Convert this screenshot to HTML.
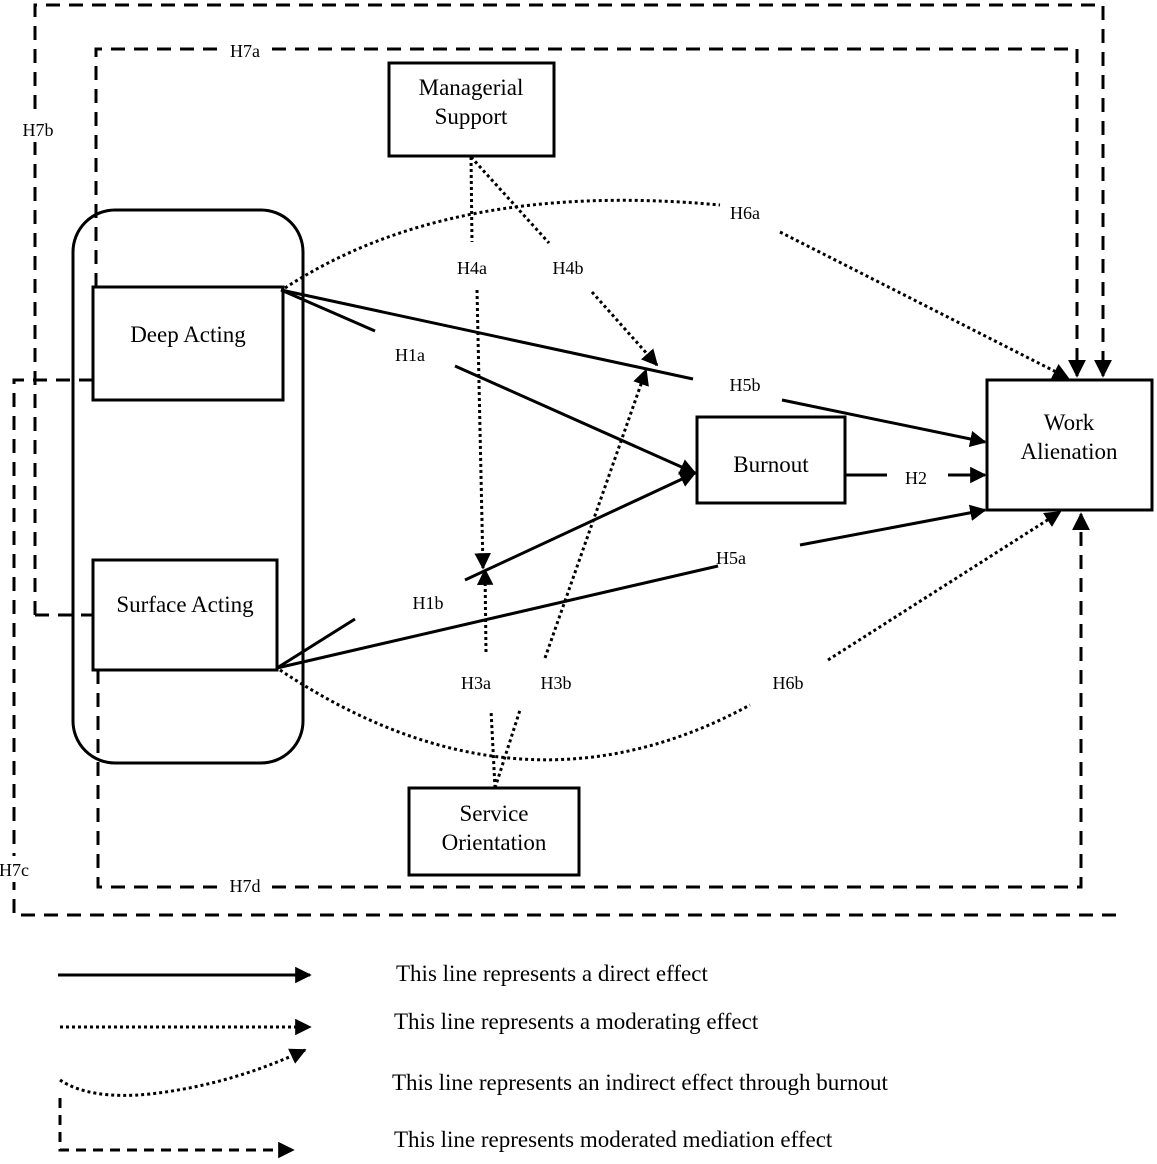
<!DOCTYPE html>
<html><head><meta charset="utf-8"><style>
html,body{margin:0;padding:0;background:#fff}
svg{display:block}
text{font-family:"Liberation Serif",serif;fill:#000}
.n{font-size:23px;text-anchor:middle}
.l{font-size:18px;text-anchor:middle}
.g{font-size:23px}
</style></head><body>
<svg width="1157" height="1164" viewBox="0 0 1157 1164" xmlns="http://www.w3.org/2000/svg">
<defs>
<marker id="a" viewBox="0 0 10 10" refX="9" refY="5" markerWidth="5.5" markerHeight="5.5" orient="auto" markerUnits="strokeWidth"><path d="M0,0L10,5L0,10z" fill="#000"/></marker>
<marker id="b" viewBox="0 0 10 10" refX="9" refY="5" markerWidth="6" markerHeight="6" orient="auto" markerUnits="strokeWidth"><path d="M0,0L10,5L0,10z" fill="#000"/></marker>
</defs>
<g fill="none" stroke="#000">
<g stroke-width="3" stroke-dasharray="14,9">
<polyline points="35,615 35,5 1103,5 1103,376" marker-end="url(#b)"/>
<polyline points="96,287 96,49 1077,49 1077,376" marker-end="url(#b)"/>
<polyline points="93,380 14,380 14,915 1120,915"/>
<polyline points="98,670 98,887 1081,887 1081,514" marker-end="url(#b)"/>
<line x1="35" y1="615" x2="93" y2="615"/>
</g>
<rect x="73" y="210" width="230" height="553" rx="42" stroke-width="3" fill="none"/>
<rect x="93" y="287" width="190" height="113" stroke-width="3" fill="#fff"/>
<rect x="93" y="560" width="184" height="110" stroke-width="3" fill="#fff"/>
<rect x="389" y="63" width="165" height="93" stroke-width="3" fill="#fff"/>
<rect x="697" y="417" width="148" height="86" stroke-width="3" fill="#fff"/>
<rect x="987" y="380" width="165" height="130" stroke-width="3" fill="#fff"/>
<rect x="409" y="788" width="170" height="87" stroke-width="3" fill="#fff"/>
<g stroke-width="3">
<line x1="281" y1="290" x2="375" y2="331"/>
<line x1="455" y1="366" x2="695" y2="473" marker-end="url(#a)"/>
<line x1="281" y1="290" x2="693" y2="379"/>
<line x1="782" y1="400" x2="985" y2="442" marker-end="url(#a)"/>
<line x1="277" y1="668" x2="355" y2="619"/>
<line x1="465" y1="580" x2="695" y2="473" marker-end="url(#a)"/>
<line x1="277" y1="668" x2="718" y2="566"/>
<line x1="800" y1="545" x2="985" y2="510" marker-end="url(#a)"/>
<line x1="845" y1="475" x2="887" y2="475"/>
<line x1="948" y1="475" x2="985" y2="475" marker-end="url(#a)"/>
</g>
<g stroke-width="3" stroke-dasharray="3,3">
<line x1="471" y1="157" x2="472" y2="242"/>
<line x1="477" y1="290" x2="483" y2="568" marker-end="url(#a)"/>
<line x1="471" y1="157" x2="549" y2="243"/>
<line x1="592" y1="292" x2="657" y2="365" marker-end="url(#a)"/>
<line x1="495" y1="788" x2="491" y2="710"/>
<line x1="486" y1="652" x2="485" y2="570" marker-end="url(#a)"/>
<line x1="495" y1="788" x2="520" y2="710"/>
<line x1="545" y1="658" x2="646" y2="370" marker-end="url(#a)"/>
<path d="M285,288 Q450,180 720,205"/>
<line x1="780" y1="232" x2="1068" y2="378" marker-end="url(#a)"/>
<path d="M280,670 Q520,830 750,705"/>
<line x1="828" y1="660" x2="1060" y2="512" marker-end="url(#a)"/>
</g>
<line x1="58" y1="975" x2="310" y2="975" stroke-width="3" marker-end="url(#a)"/>
<line x1="60" y1="1027" x2="310" y2="1027" stroke-width="3" stroke-dasharray="3,3" marker-end="url(#a)"/>
<path d="M60,1080 Q90,1100 150,1094 Q230,1085 305,1050" stroke-width="3" stroke-dasharray="3,3" marker-end="url(#a)"/>
<polyline points="60,1098 60,1150 293,1150" stroke-width="3" stroke-dasharray="10,7" marker-end="url(#a)"/>
</g>
<g fill="#fff">
<rect x="18" y="116" width="40" height="26"/>
<rect x="224" y="38" width="44" height="24"/>
<rect x="0" y="856" width="32" height="26"/>
<rect x="224" y="874" width="44" height="26"/>
</g>
<text class="l" x="38" y="136">H7b</text>
<text class="l" x="245" y="57">H7a</text>
<text class="l" x="14" y="876">H7c</text>
<text class="l" x="245" y="892">H7d</text>
<text class="l" x="410" y="361">H1a</text>
<text class="l" x="428" y="609">H1b</text>
<text class="l" x="472" y="274">H4a</text>
<text class="l" x="568" y="274">H4b</text>
<text class="l" x="476" y="689">H3a</text>
<text class="l" x="556" y="689">H3b</text>
<text class="l" x="745" y="219">H6a</text>
<text class="l" x="788" y="689">H6b</text>
<text class="l" x="745" y="391">H5b</text>
<text class="l" x="731" y="564">H5a</text>
<text class="l" x="916" y="484">H2</text>
<text class="n" x="188" y="342">Deep Acting</text>
<text class="n" x="185" y="612">Surface Acting</text>
<text class="n" x="471" y="95">Managerial</text>
<text class="n" x="471" y="124">Support</text>
<text class="n" x="771" y="472">Burnout</text>
<text class="n" x="1069" y="430">Work</text>
<text class="n" x="1069" y="459">Alienation</text>
<text class="n" x="494" y="821">Service</text>
<text class="n" x="494" y="850">Orientation</text>
<text class="g" x="396" y="981">This line represents a direct effect</text>
<text class="g" x="394" y="1029">This line represents a moderating effect</text>
<text class="g" x="392" y="1090">This line represents an indirect effect through burnout</text>
<text class="g" x="394" y="1147">This line represents moderated mediation effect</text>
</svg>
</body></html>
